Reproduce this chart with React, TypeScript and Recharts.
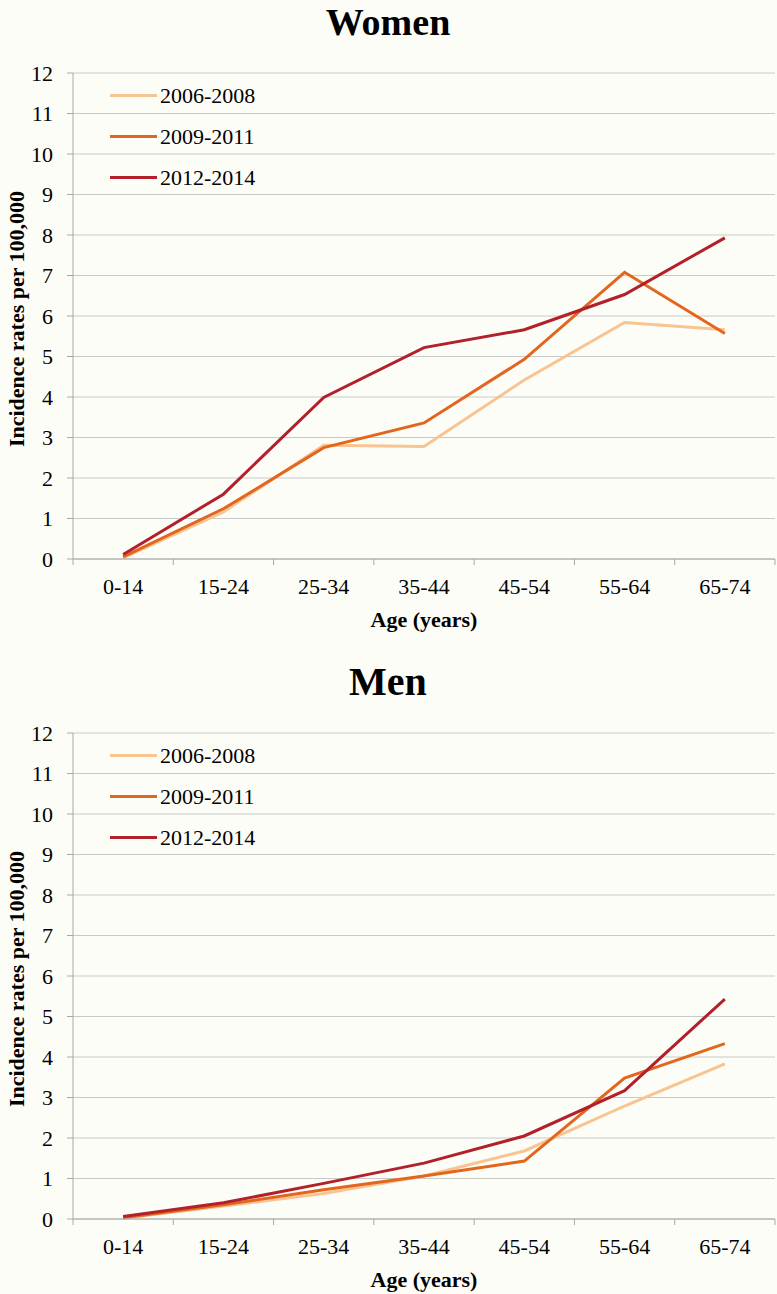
import React from 'react';
import { LineChart, Line, XAxis, YAxis, CartesianGrid, Legend, Label } from 'recharts';

const ageGroups = ['0-14', '15-24', '25-34', '35-44', '45-54', '55-64', '65-74'];
const periods = ['2006-2008', '2009-2011', '2012-2014'];
const periodColors = ['#f8c491', '#e2661d', '#b2202a'];

const women2006 = [0.03, 1.16, 2.81, 2.78, 4.42, 5.84, 5.66];
const women2009 = [0.05, 1.24, 2.75, 3.36, 4.93, 7.08, 5.57];
const women2012 = [0.11, 1.6, 3.99, 5.22, 5.66, 6.53, 7.93];

const men2006 = [0.02, 0.32, 0.63, 1.06, 1.68, 2.79, 3.83];
const men2009 = [0.03, 0.35, 0.72, 1.06, 1.43, 3.48, 4.33];
const men2012 = [0.06, 0.4, 0.88, 1.38, 2.05, 3.17, 5.43];

const yTicks = [0, 1, 2, 3, 4, 5, 6, 7, 8, 9, 10, 11, 12];
const xTicks = ageGroups.flatMap((_, i) => [i, i + 0.5]).concat([ageGroups.length]);

const FONT = '"Liberation Serif", "Times New Roman", serif';
const BG = '#fdfdf8';
const AXIS = '#a8a8a8';
const GRID = '#c9c9c9';
const TICK_SIZE = 6;
const TICK_MARGIN = 14;
const TICK_FONT = 22;

function buildRows(a: number[], b: number[], c: number[]) {
  return ageGroups.map((age, i) => ({ pos: i + 0.5, age, p0: a[i], p1: b[i], p2: c[i] }));
}

function XTick(props: any) {
  const { x, y, payload } = props;
  const v = payload.value as number;
  if (Number.isInteger(v)) {
    return (
      <line x1={x} x2={x} y1={y - TICK_MARGIN - TICK_SIZE} y2={y - TICK_MARGIN} stroke={AXIS} strokeWidth={1} />
    );
  }
  return (
    <text x={x} y={y} dy="0.68em" textAnchor="middle" fill="#000" fontSize={TICK_FONT} fontFamily={FONT}>
      {ageGroups[Math.floor(v)]}
    </text>
  );
}

function LegendContent(props: any) {
  const { payload } = props;
  return (
    <div style={{ fontFamily: FONT, fontSize: 22, color: '#000' }}>
      {(payload || []).map((entry: any) => (
        <div key={entry.value} style={{ height: 41, display: 'flex', alignItems: 'center' }}>
          <div style={{ width: 47, height: 3, background: entry.color }} />
          <span style={{ marginLeft: 3, lineHeight: '22px' }}>{entry.value}</span>
        </div>
      ))}
    </div>
  );
}

function YLabel(props: any) {
  const { viewBox } = props;
  const cx = 24;
  const cy = viewBox.y + viewBox.height / 2 + 3;
  return (
    <text
      x={cx}
      y={cy}
      transform={`rotate(-90, ${cx}, ${cy})`}
      textAnchor="middle"
      fill="#000"
      fontSize={22}
      fontWeight="bold"
      fontFamily={FONT}
    >
      Incidence rates per 100,000
    </text>
  );
}

function Panel({ rows }: { rows: any[] }) {
  return (
    <LineChart width={777} height={640} data={rows} margin={{ top: 73, right: 2, left: 0, bottom: 0 }}>
      <CartesianGrid horizontal vertical={false} stroke={GRID} />
      <XAxis
        dataKey="pos"
        type="number"
        domain={[0, ageGroups.length]}
        ticks={xTicks}
        interval={0}
        height={81}
        tickSize={TICK_SIZE}
        tickMargin={TICK_MARGIN}
        tickLine={false}
        axisLine={{ stroke: AXIS }}
        tick={<XTick />}
      >
        <Label
          value="Age (years)"
          position="insideBottom"
          offset={13}
          style={{ fontFamily: FONT, fontSize: 22, fontWeight: 'bold', fill: '#000' }}
        />
      </XAxis>
      <YAxis
        type="number"
        domain={[0, 12]}
        ticks={yTicks}
        interval={0}
        width={73}
        tickSize={TICK_SIZE}
        tickMargin={TICK_MARGIN}
        tickLine={{ stroke: AXIS }}
        axisLine={{ stroke: AXIS }}
        tick={{ fill: '#000', fontSize: TICK_FONT, fontFamily: FONT }}
      >
        <Label content={<YLabel />} />
      </YAxis>
      <Legend
        layout="horizontal"
        verticalAlign="middle"
        align="center"
        content={<LegendContent />}
        wrapperStyle={{ left: 110, top: 75, width: 220 }}
      />
      {periods.map((p, i) => (
        <Line
          key={p}
          type="linear"
          dataKey={`p${i}`}
          name={p}
          stroke={periodColors[i]}
          strokeWidth={3}
          dot={false}
          activeDot={false}
          isAnimationActive={false}
        />
      ))}
    </LineChart>
  );
}

export default function App() {
  const womenRows = buildRows(women2006, women2009, women2012);
  const menRows = buildRows(men2006, men2009, men2012);
  return (
    <div style={{ position: 'absolute', left: 0, top: 0, width: 777, height: 1294, background: BG, overflow: 'hidden' }}>
      <div style={{ position: 'absolute', left: 0, top: 0 }}>
        <Panel rows={womenRows} />
      </div>
      <div style={{ position: 'absolute', left: 0, top: 660 }}>
        <Panel rows={menRows} />
      </div>
      <svg width={777} height={1294} style={{ position: 'absolute', left: 0, top: 0, pointerEvents: 'none' }}>
        <text x={388} y={35} textAnchor="middle" fontFamily={FONT} fontWeight="bold" fontSize={38} fill="#000">
          Women
        </text>
        <text x={388} y={695} textAnchor="middle" fontFamily={FONT} fontWeight="bold" fontSize={40} fill="#000">
          Men
        </text>
      </svg>
    </div>
  );
}
